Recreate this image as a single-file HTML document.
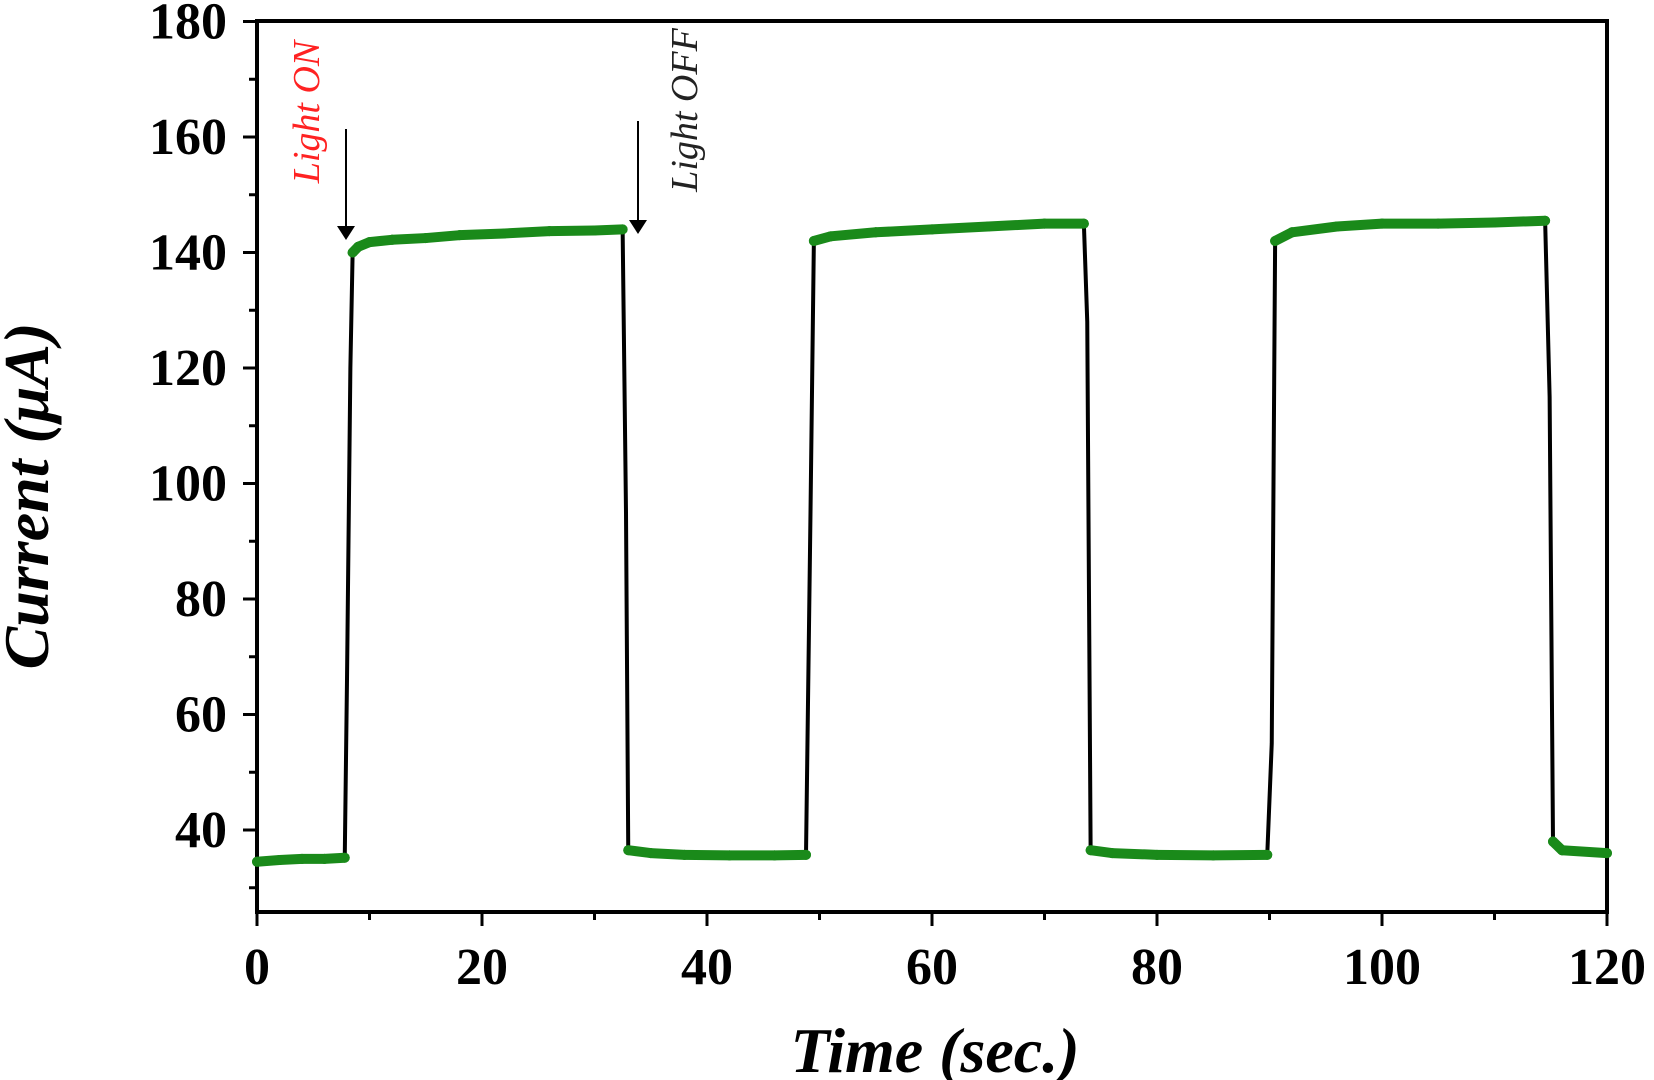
<!DOCTYPE html>
<html><head><meta charset="utf-8"><style>
html,body{margin:0;padding:0;background:#fff;}
svg{display:block;font-family:"Liberation Serif",serif;}
</style></head><body>
<svg id="chart" width="1654" height="1080" viewBox="0 0 1654 1080" xmlns="http://www.w3.org/2000/svg">
<g id="axes"></g><g id="series"></g><g id="ann"></g>
</svg>
<script>
const times=[0,2,4,6,7.8,8.0,8.3,8.5,9,10,12,15,18,22,26,30,32.5,32.8,33,35,38,42,46,48.8,49.2,49.5,51,55,60,65,70,73.5,73.8,74.1,76,80,85,89.8,90.2,90.5,92,96,100,105,110,114.5,114.9,115.2,116,120];
const currents=[34.5,34.8,35,35,35.2,66,120,140,141,141.8,142.2,142.5,143,143.3,143.7,143.8,144,95,36.5,36,35.7,35.6,35.6,35.7,95,142,142.8,143.5,144,144.5,145,145,128,36.5,36,35.7,35.6,35.7,55,142,143.5,144.5,145,145,145.2,145.5,115,38,36.5,36];
const marked=[1,1,1,1,1,0,0,1,1,1,1,1,1,1,1,1,1,0,1,1,1,1,1,1,0,1,1,1,1,1,1,1,0,1,1,1,1,1,0,1,1,1,1,1,1,1,0,1,1,1];
const xTicks=[0,20,40,60,80,100,120];
const yTicks=[40,60,80,100,120,140,160,180];
const NS="http://www.w3.org/2000/svg";
const X0=257,X1=1607,Y0=912,Y1=21;
const xs=v=>X0+(v-0)/120*(X1-X0);
const ys=v=>830-(v-40)*5.775;
function mk(tag,attrs,parent){const e=document.createElementNS(NS,tag);for(const k in attrs)e.setAttribute(k,attrs[k]);parent.appendChild(e);return e;}
const ax=document.getElementById('axes'),se=document.getElementById('series'),an=document.getElementById('ann');
const frame=mk('rect',{x:X0,y:Y1,width:X1-X0,height:Y0-Y1,fill:'none',stroke:'#000','stroke-width':4},ax);


for(let v=0;v<=120;v+=10){const major=v%20===0;
 const t=mk('line',{x1:xs(v),x2:xs(v),y1:Y0,y2:Y0+(major?14:8),stroke:'#000','stroke-width':3},ax);
 
 }
xTicks.forEach(v=>{const t=mk('text',{x:xs(v),y:984,'text-anchor':'middle','font-size':52,'font-weight':'bold'},ax);t.textContent=v;
 
 });
for(let v=30;v<=180;v+=10){const major=v%20===0;
 const t=mk('line',{x1:X0,x2:X0-(major?14:8),y1:ys(v),y2:ys(v),stroke:'#000','stroke-width':3},ax);
 
 }
yTicks.forEach(v=>{const t=mk('text',{x:227,y:ys(v)+17,'text-anchor':'end','font-size':52,'font-weight':'bold'},ax);t.textContent=v;
 
 });
const xt=mk('text',{x:935,y:1072,'text-anchor':'middle','font-size':64,'font-weight':'bold','font-style':'italic'},ax);xt.textContent='Time (sec.)';


const yt=mk('text',{x:0,y:0,'text-anchor':'middle','font-size':64,'font-weight':'bold','font-style':'italic',transform:'translate(48,496) rotate(-90)'},ax);yt.textContent='Current (\u03bcA)';


const pl=mk('polyline',{points:times.map((t,i)=>xs(t)+','+ys(currents[i])).join(' '),fill:'none',stroke:'#000','stroke-width':4},se);


for(let i=0;i<times.length-1;i++){if(marked[i]&&marked[i+1]){
 const s=mk('line',{x1:xs(times[i]),y1:ys(currents[i]),x2:xs(times[i+1]),y2:ys(currents[i+1]),stroke:'#1a8a1a','stroke-width':10,'stroke-linecap':'round'},se);
 
 }}
times.forEach((t,i)=>{if(marked[i]){const c=mk('circle',{cx:xs(t),cy:ys(currents[i]),r:5,fill:'#1a8a1a'},se);
 
 }});
function arrow(x,y1,y2,name){const g=mk('g',{},an);
 
 
 mk('line',{x1:x,x2:x,y1:y1,y2:y2-10,stroke:'#000','stroke-width':2},g);
 mk('polygon',{points:`${x-9},${y2-14} ${x+9},${y2-14} ${x},${y2}`,fill:'#000'},g);}
arrow(346,129,240,'light-on-arrow');
arrow(638,121,234,'light-off-arrow');
const on=mk('text',{x:0,y:0,'text-anchor':'middle','font-size':38,'font-style':'italic',fill:'#f22',transform:'translate(319,112) rotate(-90)'},an);on.textContent='Light ON';


const off=mk('text',{x:0,y:0,'text-anchor':'middle','font-size':38,'font-style':'italic',fill:'#222',transform:'translate(697,110) rotate(-90)'},an);off.textContent='Light OFF';


</script>
</body></html>
